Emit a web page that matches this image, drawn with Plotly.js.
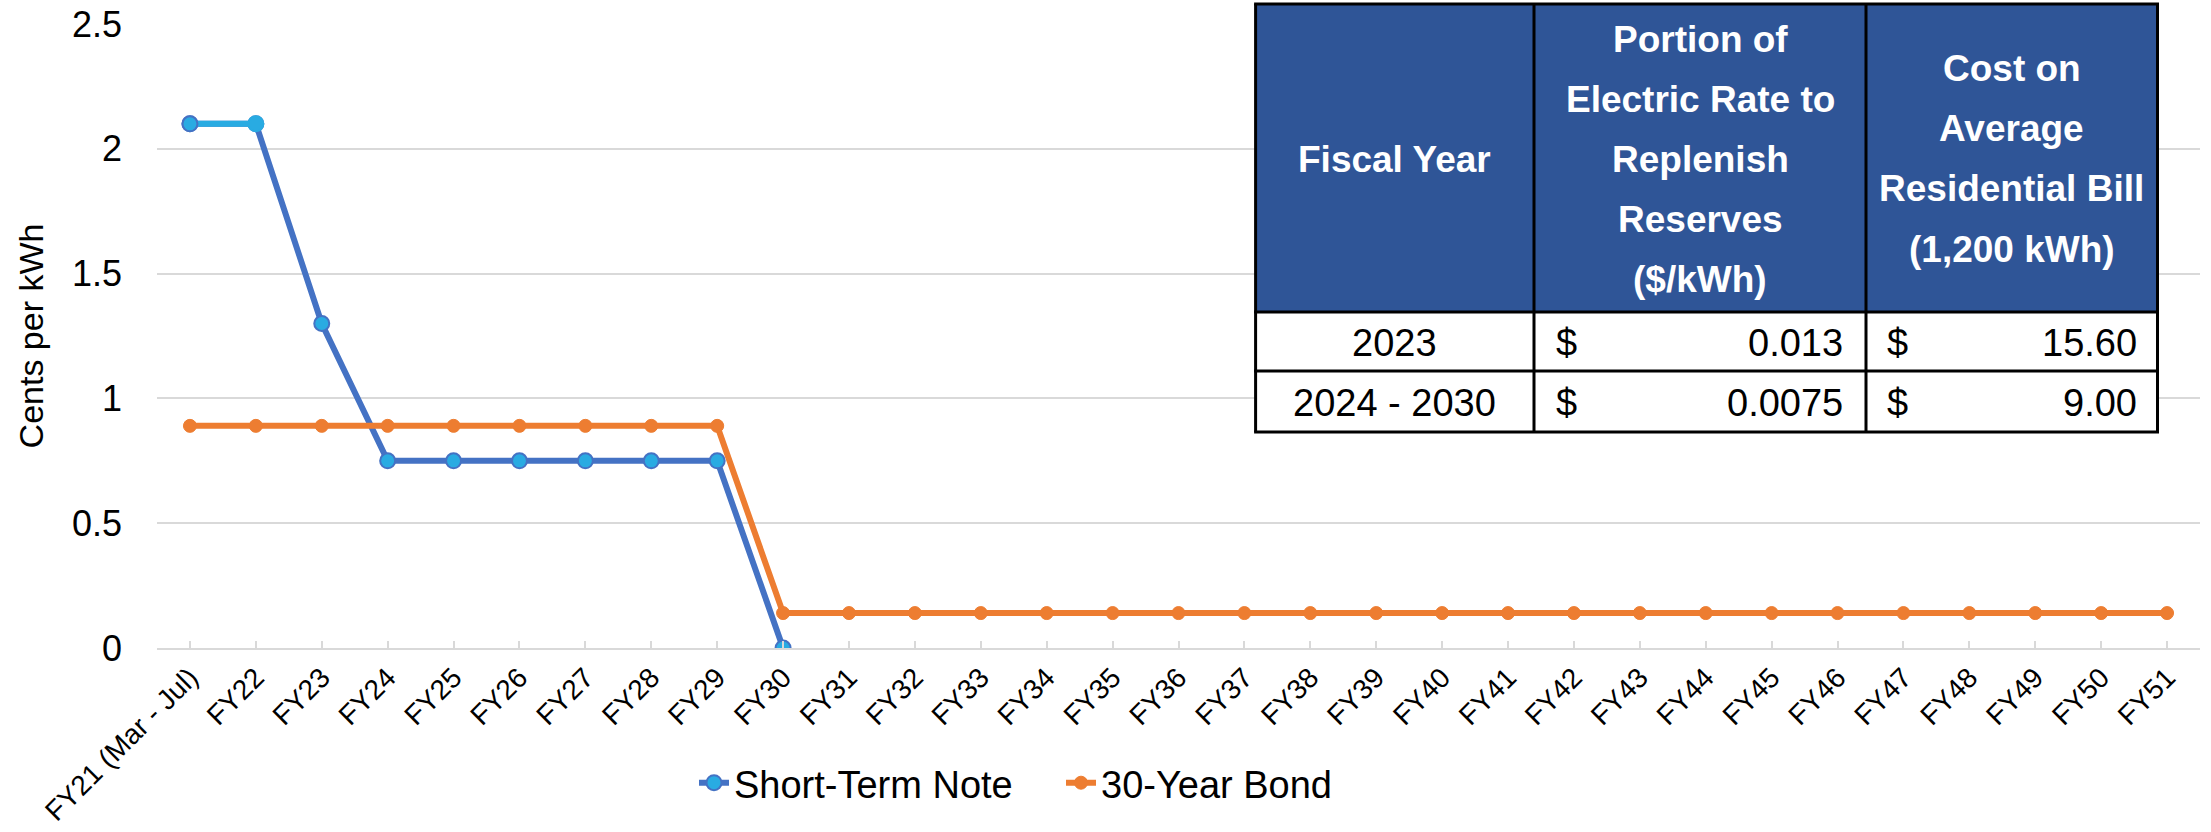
<!DOCTYPE html>
<html>
<head>
<meta charset="utf-8">
<script src="https://cdn.plot.ly/plotly-3.0.1.min.js"></script>
<style>html,body{margin:0;padding:0;background:#fff;}#chart{width:2211px;height:832px;}</style>
</head>
<body>
<div id="chart"></div>
<script>
// ---------- data ----------
const categories = ['FY21 (Mar - Jul)','FY22','FY23','FY24','FY25','FY26','FY27','FY28','FY29','FY30',
  'FY31','FY32','FY33','FY34','FY35','FY36','FY37','FY38','FY39','FY40','FY41','FY42','FY43','FY44',
  'FY45','FY46','FY47','FY48','FY49','FY50','FY51'];
const shortTermNote = [2.1, 2.1, 1.3, 0.75, 0.75, 0.75, 0.75, 0.75, 0.75, 0,
  null, null, null, null, null, null, null, null, null, null, null, null, null, null,
  null, null, null, null, null, null, null];
const bond30 = [0.89, 0.89, 0.89, 0.89, 0.89, 0.89, 0.89, 0.89, 0.89, 0.14,
  0.14, 0.14, 0.14, 0.14, 0.14, 0.14, 0.14, 0.14, 0.14, 0.14, 0.14, 0.14, 0.14, 0.14,
  0.14, 0.14, 0.14, 0.14, 0.14, 0.14, 0.14];
const seriesNames = ['Short-Term Note', '30-Year Bond'];
const yTickValues = [0, 0.5, 1, 1.5, 2, 2.5];
const yTickLabels = ['0', '0.5', '1', '1.5', '2', '2.5'];
const yAxisTitle = 'Cents per kWh';

const tableHeader = [
  ['Fiscal Year'],
  ['Portion of', 'Electric Rate to', 'Replenish', 'Reserves', '($/kWh)'],
  ['Cost on', 'Average', 'Residential Bill', '(1,200 kWh)']
];
const tableYears = ['2023', '2024 - 2030'];
const tableRate = ['0.013', '0.0075'];
const tableBill = ['15.60', '9.00'];
const currencySymbol = '$';

// ---------- geometry ----------
const W = 2211, H = 832;
const M = {l: 157, r: 11, t: 24, b: 184};
const PW = W - M.l - M.r, PH = H - M.t - M.b;
const px = x => (x - M.l) / PW;
const py = y => (H - M.b - y) / PH;
const FONT = 'Liberation Sans, Arial, sans-serif';

const BLUE = '#4472C4', LBLUE = '#29ABE2', ORANGE = '#ED7D31', GRID = '#D9D9D9';

const traces = [
  {
    type: 'scatter', mode: 'lines+markers', name: seriesNames[0],
    x: categories, y: shortTermNote,
    line: {color: BLUE, width: 6},
    marker: {color: LBLUE, size: 15, line: {color: BLUE, width: 2}},
    connectgaps: false
  },
  {
    type: 'scatter', mode: 'lines', showlegend: false, hoverinfo: 'skip',
    x: categories.slice(0, 2), y: shortTermNote.slice(0, 2),
    line: {color: LBLUE, width: 6}
  },
  {
    type: 'scatter', mode: 'markers', showlegend: false, hoverinfo: 'skip',
    x: categories.slice(0, 2), y: shortTermNote.slice(0, 2),
    marker: {color: LBLUE, size: 15, line: {color: [BLUE, LBLUE], width: 2}}
  },
  {
    type: 'scatter', mode: 'lines+markers', name: seriesNames[1],
    x: categories, y: bond30,
    line: {color: ORANGE, width: 6},
    marker: {color: ORANGE, size: 13, line: {color: ORANGE, width: 1}}
  }
];

// ---------- table (shapes + annotations) ----------
const colX = [1255.6, 1534, 1866, 2157.5];
const rowY = [4, 312, 371, 432];
const shapes = [];
const annotations = [];

shapes.push({type: 'rect', xref: 'paper', yref: 'paper', layer: 'above',
  x0: px(colX[0]), x1: px(colX[3]), y0: py(rowY[0]), y1: py(rowY[1]),
  fillcolor: '#2F5597', line: {width: 0}});
shapes.push({type: 'rect', xref: 'paper', yref: 'paper', layer: 'above',
  x0: px(colX[0]), x1: px(colX[3]), y0: py(rowY[1]), y1: py(rowY[3]),
  fillcolor: '#FFFFFF', line: {width: 0}});
rowY.forEach(y => shapes.push({type: 'line', xref: 'paper', yref: 'paper', layer: 'above',
  x0: px(colX[0] - 1.5), x1: px(colX[3] + 1.5), y0: py(y), y1: py(y), line: {color: '#000', width: 3}}));
colX.forEach(x => shapes.push({type: 'line', xref: 'paper', yref: 'paper', layer: 'above',
  x0: px(x), x1: px(x), y0: py(rowY[0]), y1: py(rowY[3]), line: {color: '#000', width: 3}}));

const headCenterY = 159, headLine = 60;
tableHeader.forEach((lines, c) => {
  const cx = (colX[c] + colX[c + 1]) / 2;
  lines.forEach((t, i) => {
    annotations.push({xref: 'paper', yref: 'paper', x: px(cx),
      y: py(headCenterY + (i - (lines.length - 1) / 2) * headLine),
      text: '<b>' + t + '</b>', showarrow: false, xanchor: 'center', yanchor: 'middle',
      font: {family: FONT, size: 37, color: '#FFFFFF'}});
  });
});
const bodyFont = {family: FONT, size: 38, color: '#000000'};
tableYears.forEach((t, r) => {
  const cy = (rowY[r + 1] + rowY[r + 2]) / 2 + 1;
  annotations.push({xref: 'paper', yref: 'paper', x: px((colX[0] + colX[1]) / 2), y: py(cy),
    text: t, showarrow: false, xanchor: 'center', yanchor: 'middle', font: bodyFont});
  annotations.push({xref: 'paper', yref: 'paper', x: px(colX[1] + 20), y: py(cy),
    text: currencySymbol, showarrow: false, xanchor: 'left', yanchor: 'middle', font: bodyFont});
  annotations.push({xref: 'paper', yref: 'paper', x: px(colX[2] - 21), y: py(cy),
    text: tableRate[r], showarrow: false, xanchor: 'right', yanchor: 'middle', font: bodyFont});
  annotations.push({xref: 'paper', yref: 'paper', x: px(colX[2] + 19), y: py(cy),
    text: currencySymbol, showarrow: false, xanchor: 'left', yanchor: 'middle', font: bodyFont});
  annotations.push({xref: 'paper', yref: 'paper', x: px(colX[3] - 19), y: py(cy),
    text: tableBill[r], showarrow: false, xanchor: 'right', yanchor: 'middle', font: bodyFont});
});

const layout = {
  width: W, height: H,
  margin: M,
  paper_bgcolor: '#FFFFFF', plot_bgcolor: '#FFFFFF',
  font: {family: FONT, color: '#000000'},
  showlegend: true,
  legend: {orientation: 'h', x: px(694), xanchor: 'left', y: py(783), yanchor: 'middle',
    font: {family: FONT, size: 38, color: '#000000'}, bgcolor: 'rgba(0,0,0,0)', itemwidth: 30,
    entrywidth: 322, entrywidthmode: 'pixels', traceorder: 'normal'},
  xaxis: {type: 'category', range: [-0.5, categories.length - 0.5], tickangle: -45,
    tickfont: {family: FONT, size: 28, color: '#000000'},
    showgrid: false, zeroline: false, showline: true, linecolor: GRID, linewidth: 2,
    ticks: 'inside', ticklen: 7, tickcolor: GRID, tickwidth: 2, automargin: false, fixedrange: true},
  yaxis: {range: [0, 2.5], tickvals: yTickValues, ticktext: yTickLabels,
    tickfont: {family: FONT, size: 36, color: '#000000'},
    showgrid: true, gridcolor: GRID, gridwidth: 2, zeroline: false, showline: false,
    ticks: '', ticklabelstandoff: 34, automargin: false, fixedrange: true,
    title: {text: yAxisTitle, font: {family: FONT, size: 34, color: '#000000'}, standoff: 18}},
  shapes: shapes,
  annotations: annotations
};

Plotly.newPlot('chart', traces, layout, {displayModeBar: false, staticPlot: true});
</script>
</body>
</html>
